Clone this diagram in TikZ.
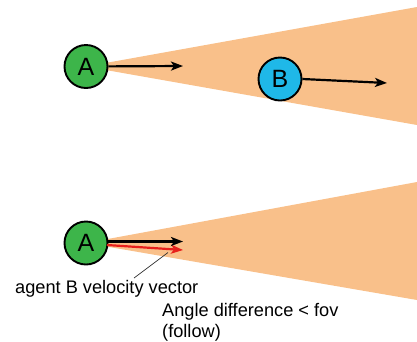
\documentclass[tikz,border=0pt]{standalone}
\usepackage{fontspec}
\setmainfont{Liberation Sans}
\usetikzlibrary{arrows.meta}
\definecolor{cone}{HTML}{F9C08A}
\definecolor{agentgreen}{HTML}{3DB54A}
\definecolor{agentblue}{HTML}{1FB8E8}
\definecolor{velred}{HTML}{E8201C}
\tikzset{
  agent/.style={circle, draw=black, line width=1.9pt, minimum size=43pt, inner sep=0pt, font=\fontsize{25}{27}\selectfont},
  vel/.style={line width=2.2pt, -{Stealth[length=12pt,width=9pt,inset=3pt]}},
  lbl/.style={font=\fontsize{18.2}{20.5}\selectfont, inner sep=0pt, align=left},
  conefill/.style={fill=cone, draw=none}
}
\begin{document}
\begin{tikzpicture}[x=1pt,y=-1pt]
\useasboundingbox (0,0) rectangle (417,341);
% top panel
\fill[cone] (86,66.5) -- (417,7) -- (417,125) -- cycle;
\node[agent, fill=agentgreen] (A1) at (86,66.5) {A};
\coordinate (A1t) at (183,66);
\draw[vel] (A1) -- (A1t);
\node[agent, fill=agentblue] (B1) at (280,79) {B};
\coordinate (B1t) at (387,83);
\draw[vel] (B1.east) -- (B1t);
% bottom panel
\fill[cone] (86,243) -- (417,182) -- (417,300) -- cycle;
\node[agent, fill=agentgreen] (A2) at (86,243) {A};
\coordinate (A2r0) at (107,245);
\coordinate (A2r) at (183,250);
\draw[vel, velred] (A2r0) -- (A2r);
\coordinate (A2b0) at (107,241.5);
\coordinate (A2t) at (183,241.5);
\draw[vel] (A2b0) -- (A2t);
\node[lbl, anchor=base west] (lab1) at (15,293) {agent B velocity vector};
\node[lbl, anchor=base west] (lab2) at (162,337) {Angle difference < fov\\(follow)};
\coordinate (p0) at (134,278);
\coordinate (p1) at (168,252.5);
\draw[line width=0.7pt, black!80] (p0) -- (p1);
\end{tikzpicture}
\end{document}
